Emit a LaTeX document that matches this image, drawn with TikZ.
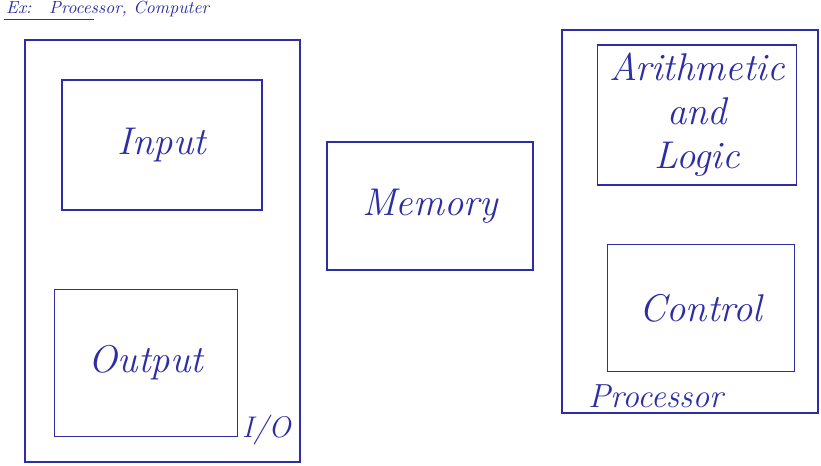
\documentclass[tikz,border=0pt]{standalone}
\usepackage{xcolor}
\usetikzlibrary{positioning}
\definecolor{penblue}{RGB}{45,45,165}

\begin{document}
\begin{tikzpicture}[
      x=0.02cm, y=-0.02cm,
      unit/.style={
        draw=penblue,
        line width=0.9pt,
        align=center,
        text=penblue,
        font=\itshape\fontsize{22}{25}\selectfont
      },
      group/.style={draw=penblue, line width=0.9pt},
      tag/.style={text=penblue, font=\itshape\fontsize{19}{22}\selectfont, inner sep=1pt}
    ]
    \useasboundingbox (0,0) rectangle (821,466);
    % heading, mostly lost at the top edge
    \node[text=penblue, font=\itshape\normalsize, anchor=base west, inner sep=1pt] (ex) at (4,14) {Ex:\quad Processor, Computer};
    \draw[penblue, line width=1.1pt] (ex.south west) -- ++(90,0);

    % I/O side
    \draw[group] (25,40) rectangle (300,462);
    \node[unit, minimum width=4cm, minimum height=2.6cm] (input) at (162,145) {Input};
    \node[unit, minimum width=3.66cm, minimum height=2.94cm] (output) at (146,363) {Output};
    \node[tag, anchor=south west, font=\itshape\fontsize{17}{20}\selectfont] (io) at (240,447) {I/O};

    % memory in the middle
    \node[unit, minimum width=4.12cm, minimum height=2.56cm] (memory) at (430,206) {Memory};

    % processor side
    \draw[group] (562,30) rectangle (818,413);
    \node[unit, minimum width=3.98cm, minimum height=2.8cm] (alu) at (697,115) {Arithmetic\\and\\Logic};
    \node[unit, minimum width=3.74cm, minimum height=2.54cm] (control) at (701,308) {Control};
    \node[tag, anchor=south west] (proc) at (586,410) {Processor};
  \end{tikzpicture}
\end{document}
